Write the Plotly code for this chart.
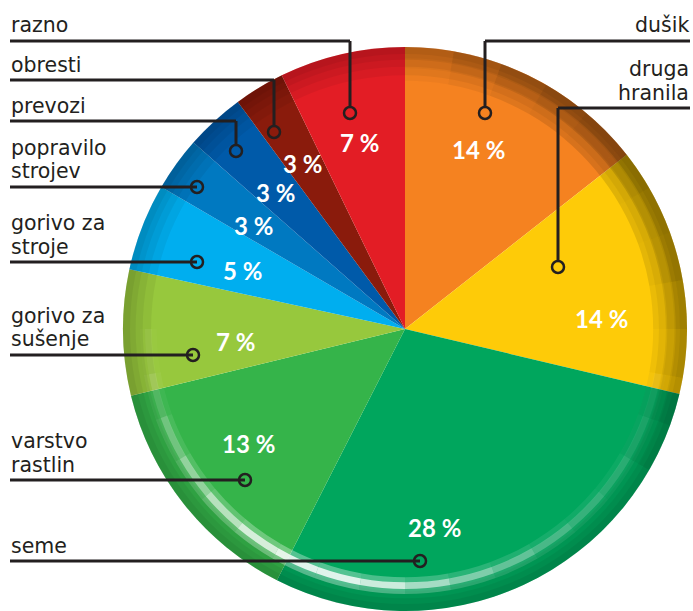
import plotly.graph_objects as go

W, H = 693, 611

# ---- data ----
categories = ["dušik", "druga hranila", "seme", "varstvo rastlin", "gorivo za sušenje",
              "gorivo za stroje", "popravilo strojev", "prevozi", "obresti", "razno"]
values = [14.4, 14.3, 28.8, 13.7, 7.2, 5.0, 3.1, 3.4, 2.9, 7.2]
pct_labels = ["14 %", "14 %", "28 %", "13 %", "7 %", "5 %", "3 %", "3 %", "3 %", "7 %"]
label_lines = [["dušik"], ["druga", "hranila"], ["seme"], ["varstvo", "rastlin"],
               ["gorivo za", "sušenje"], ["gorivo za", "stroje"], ["popravilo", "strojev"],
               ["prevozi"], ["obresti"], ["razno"]]

# ---- styles / layout positions (pixels) ----
colors = ["#F58220", "#FECB08", "#00A65D", "#35B44A", "#97C83D",
          "#00AEEF", "#0079C1", "#005AA9", "#8A1B0C", "#E31D25"]
pct_pos = [(479, 149), (601, 318), (435, 527), (248, 443), (235, 341),
           (242, 270), (253, 225), (275, 193), (302, 163), (360, 142)]
# callout: side, underline y, line end x, circle (x, y)
callouts = [("R", 41, 485, (485, 113)), ("R", 108, 558, (558, 267)),
            ("L", 561, 420, (420, 561)), ("L", 480, 245, (245, 480)),
            ("L", 355, 193, (193, 355)), ("L", 262, 197, (197, 262)),
            ("L", 187, 197, (197, 187)), ("L", 121, 236, (236, 151)),
            ("L", 80, 274, (274, 132)), ("L", 41, 350, (350, 113))]

# decorative shading (sector widths in degrees, clockwise from 12 o'clock)
shade_tr_widths = [10, 10, 10, 10, 10, 10, 10, 10, 10, 10, 10, 10, 240]
shade_tr_alpha = [0.03, 0.06, 0.09, 0.11, 0.12, 0.12, 0.11, 0.10, 0.08, 0.06, 0.04, 0.02, 0]
gloss_widths = [10] * 36
gloss_alpha = [0, 0, 0, 0, 0, 0, 0, 0, 0, 0, 0.05, 0.08, 0.12, 0.16, 0.22, 0.30, 0.40, 0.55,
               0.72, 0.82, 0.82, 0.72, 0.55, 0.38, 0.24, 0.12, 0.05, 0, 0, 0, 0, 0, 0, 0, 0, 0]

CX, CY, R = 405, 329, 282
INK = "#231F20"


def px(x):
    return x / W


def py(y):
    return 1 - y / H


def dom(r):
    return dict(x=[px(CX - r), px(CX + r)], y=[max(0, py(CY + r)), min(1, py(CY - r))])


def ring(widths, cols, r_out, r_in):
    return go.Pie(values=widths, sort=False, direction="clockwise", rotation=0,
                  hole=r_in / r_out, marker=dict(colors=cols, line=dict(width=0)),
                  textinfo="none", hoverinfo="skip", showlegend=False, domain=dom(R * r_out))


fig = go.Figure()
fig.add_trace(go.Pie(
    labels=categories, values=values, sort=False, direction="clockwise", rotation=0,
    marker=dict(colors=colors, line=dict(width=0)),
    textinfo="none", hoverinfo="label+percent", showlegend=False,
    domain=dom(R),
))

# uniform dark rim (stacked thin rings -> gradient toward the edge)
for r_in in (0.90, 0.93, 0.955, 0.975):
    fig.add_trace(ring([1], ["rgba(0,0,0,0.05)"], 1.0, r_in))
# extra shadow at top-right
for r_in in (0.88, 0.925, 0.96):
    fig.add_trace(ring(shade_tr_widths, [f"rgba(0,0,0,{a})" for a in shade_tr_alpha], 1.0, r_in))
# white gloss arc
fig.add_trace(ring(gloss_widths, [f"rgba(255,255,255,{a * 0.4:.3f})" for a in gloss_alpha], 0.94, 0.88))
fig.add_trace(ring(gloss_widths, [f"rgba(255,255,255,{a:.3f})" for a in gloss_alpha], 0.922, 0.898))

shapes = []
annotations = []
for (side, uy, ex, (cxp, cyp)), lines in zip(callouts, label_lines):
    x0 = 10 if side == "L" else 690
    shapes.append(dict(type="line", xref="paper", yref="paper",
                       x0=px(x0), x1=px(ex), y0=py(uy), y1=py(uy),
                       line=dict(color=INK, width=3)))
    if cyp != uy:
        shapes.append(dict(type="line", xref="paper", yref="paper",
                           x0=px(ex), x1=px(ex), y0=py(uy), y1=py(cyp - 6),
                           line=dict(color=INK, width=3)))
    shapes.append(dict(type="circle", xref="paper", yref="paper",
                       x0=px(cxp - 6), x1=px(cxp + 6), y0=py(cyp - 6), y1=py(cyp + 6),
                       line=dict(color=INK, width=2.5), fillcolor="rgba(0,0,0,0)"))
    n = len(lines)
    for i, t in enumerate(lines):
        base = uy - 7 - (n - 1 - i) * 24
        annotations.append(dict(
            text=t, xref="paper", yref="paper",
            x=px(x0), y=py(base + 4.5), xanchor="left" if side == "L" else "right",
            yanchor="bottom", showarrow=False,
            font=dict(family="DejaVu Sans", size=20.5, color=INK),
            borderpad=0))

for t, (x, y) in zip(pct_labels, pct_pos):
    annotations.append(dict(text=t, xref="paper", yref="paper", x=px(x), y=py(y),
                            xanchor="center", yanchor="middle", showarrow=False,
                            font=dict(family="Lato", size=24, color="white", weight=700)))

fig.update_layout(width=W, height=H, margin=dict(l=0, r=0, t=0, b=0),
                  paper_bgcolor="white", plot_bgcolor="white",
                  shapes=shapes, annotations=annotations)
fig.write_html("out.html")
